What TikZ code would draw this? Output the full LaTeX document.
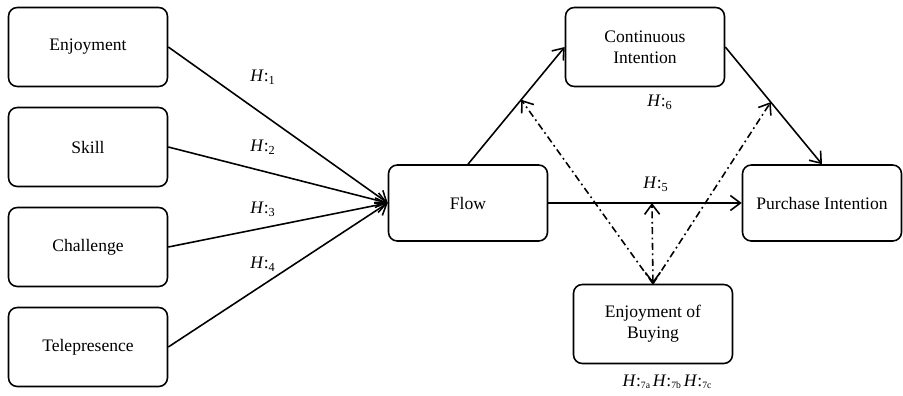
\documentclass[tikz,border=0pt]{standalone}
\usepackage{fontspec}
\setmainfont{Liberation Serif}
\usepackage{tikz}
\usetikzlibrary{positioning,arrows.meta}
\tikzset{
  caja/.style={rectangle, rounded corners=5pt, draw, line width=0.9pt,
    align=center, minimum width=3.18cm, minimum height=1.58cm, inner sep=3pt},
  flecha/.style={-{Straight Barb[length=2mm,width=3mm]}, line width=0.9pt},
  mod/.style={-{Straight Barb[length=2mm,width=3mm]}, line width=0.9pt,
    dash pattern=on 4pt off 2pt on 1pt off 2pt},
  modbi/.style={mod, {Straight Barb[length=2mm,width=3mm]}-{Straight Barb[length=2mm,width=3mm]}},
  hip/.style={inner sep=1pt},
}
\newcommand{\hyp}[1]{\textit{H}:\textsubscript{#1}}
\newcommand{\hypp}[1]{\textit{H}:\raisebox{-0.3ex}{\fontsize{5.5}{6}\selectfont #1}}

\begin{document}
\begin{tikzpicture}[font=\fontsize{10}{12}\selectfont]
    \useasboundingbox (0,0) rectangle (18.06,7.9);
    % antecedents
    \foreach \y/\nm/\txt in {6.96/enj/Enjoyment, 4.96/skill/Skill, 2.96/chal/Challenge, 0.96/tele/Telepresence}{
      \node[caja] at (1.76,\y) (\nm) {\txt};
    }
    \node[caja, minimum height=1.52cm] at (9.36,3.84) (flow) {Flow};
    \node[caja] at (12.9,6.96) (ci) {Continuous\\Intention};
    \node[caja, minimum height=1.52cm] at (16.44,3.84) (pi) {Purchase Intention};
    \node[caja] at (13.06,1.42) (eob) {Enjoyment of\\Buying};
    % H1 - H4
    \foreach \nm in {enj, skill, chal, tele}{
      \draw[flecha] (\nm.east) -- (flow.west);
    }
    \node[hip] at (5.26,6.36) (h1) {\hyp{1}};
    \node[hip] at (5.26,4.96) (h2) {\hyp{2}};
    \node[hip] at (5.26,3.72) (h3) {\hyp{3}};
    \node[hip] at (5.26,2.62) (h4) {\hyp{4}};
    % flow to intentions
    \draw[flecha] (flow.north) -- coordinate[pos=0.55] (m1) (ci.west);
    \draw[flecha] (ci.east) -- coordinate[pos=0.47] (m2) (pi.north);
    \draw[flecha] (flow.east) -- coordinate[pos=0.536] (m3) (pi.west);
    \node[hip] at (13.12,4.22) (h5) {\hyp{5}};
    \node[hip] at (13.2,5.86) (h6) {\hyp{6}};
    % moderation
    \draw[mod] (eob.north) -- (m1);
    \draw[mod] (eob.north) -- (m2);
    \draw[modbi] (eob.north) -- (m3);
    \node[hip] at (13.34,0.26) (h7) {\hypp{7a}\,\hypp{7b}\,\hypp{7c}};
\end{tikzpicture}
\end{document}
